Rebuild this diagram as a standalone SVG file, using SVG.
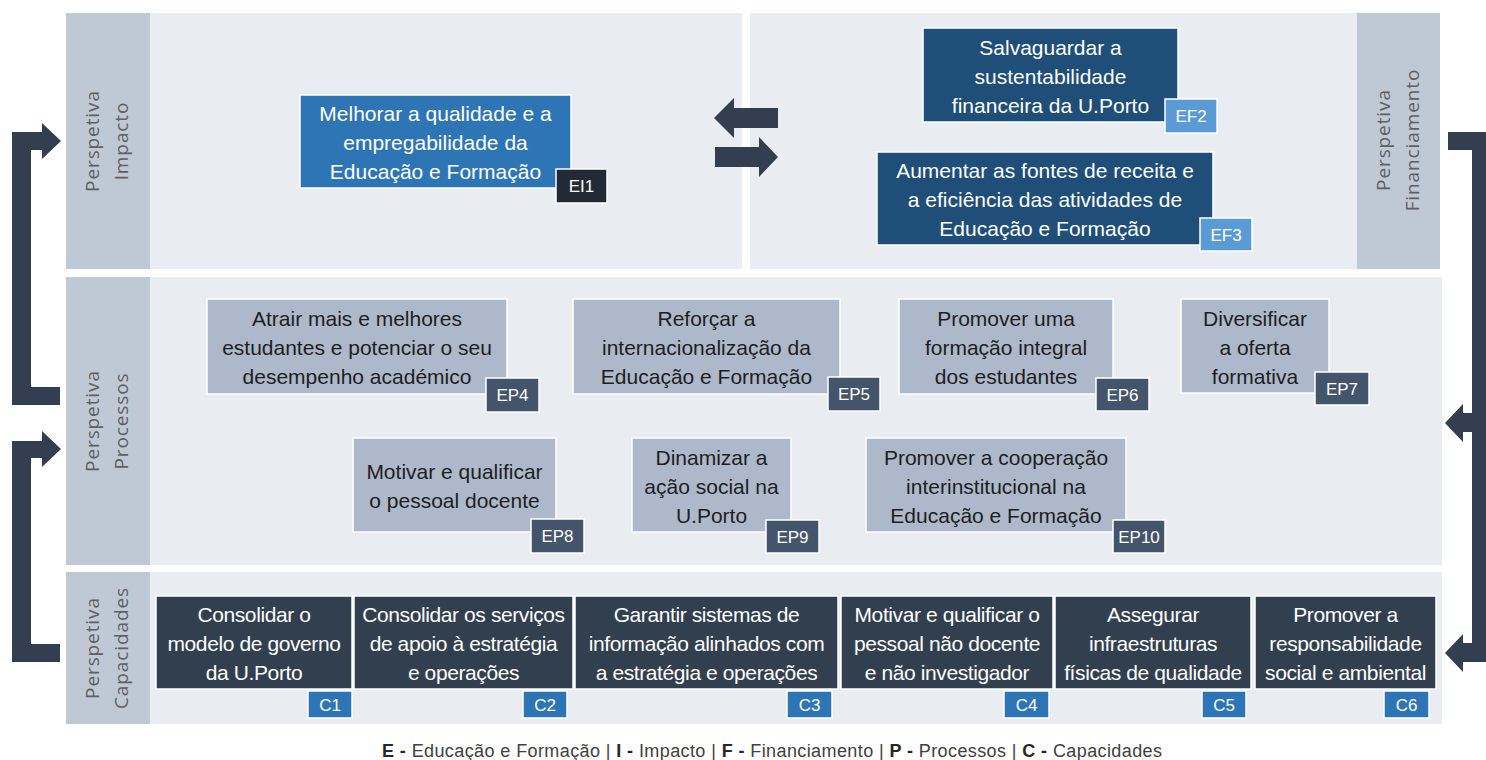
<svg xmlns="http://www.w3.org/2000/svg" width="1486" height="760" viewBox="0 0 1486 760">
<style>
.band{fill:#e9ecf1}
.lab{fill:#bfc9d6}
.labt{font-family:"Open Sans","DejaVu Sans",sans-serif;font-weight:400;font-size:19px;letter-spacing:0.9px;fill:#5f5f5f;text-anchor:middle}
.bx{stroke:#ffffff;stroke-width:1.5}
.t{font-family:"Liberation Sans",Arial,sans-serif;font-size:21px;text-anchor:middle}
.w{fill:#ffffff}
.d{fill:#1e1e1e}
.ct{letter-spacing:-0.4px}
.tg{font-family:"Liberation Sans",Arial,sans-serif;font-size:17px;fill:#ffffff;text-anchor:middle}
.arr{fill:#333f50}
.leg{font-family:"Liberation Sans",Arial,sans-serif;font-size:18px;fill:#404040}
.lb{font-weight:bold;fill:#262626}
</style>

<g id="bands">
  <rect class="band" x="66" y="13" width="676" height="256"/>
  <rect class="band" x="750" y="13" width="690" height="256"/>
  <rect class="band" x="66" y="277" width="1376" height="288"/>
  <rect class="band" x="66" y="572" width="1376" height="152"/>
  <rect class="lab" x="66" y="13" width="84" height="256"/>
  <rect class="lab" x="1357" y="13" width="83" height="256"/>
  <rect class="lab" x="66" y="277" width="84" height="288"/>
  <rect class="lab" x="66" y="572" width="84" height="152"/>
  <g transform="translate(0,141) rotate(-90)"><text class="labt" x="0" y="99">Perspetiva</text><text class="labt" x="0" y="128">Impacto</text></g>
  <g transform="translate(0,421) rotate(-90)"><text class="labt" x="0" y="99">Perspetiva</text><text class="labt" x="0" y="128">Processos</text></g>
  <g transform="translate(0,648) rotate(-90)"><text class="labt" x="0" y="99">Perspetiva</text><text class="labt" x="0" y="128">Capacidades</text></g>
  <g transform="translate(0,140) rotate(-90)"><text class="labt" x="0" y="1390">Perspetiva</text><text class="labt" x="0" y="1419">Financiamento</text></g>
</g>

<g id="connectors">
  <polygon class="arr" points="12,132 42,132 42,123 61,141 42,159 42,150 31,150 31,387 60,387 60,405 12,405"/>
  <polygon class="arr" points="12,441 42,441 42,431 61,449 42,467 42,458 31,458 31,644 60,644 60,662 12,662"/>
  <polygon class="arr" points="1448,132 1490,132 1490,662 1463,662 1463,672 1445,653 1463,634 1463,643 1472,643 1472,432 1463,432 1463,442 1445,423 1463,404 1463,413 1472,413 1472,150 1448,150"/>
  <polygon class="arr" points="778,108 734,108 734,98 714,118 734,138 734,128 778,128"/>
  <polygon class="arr" points="715,147 759,147 759,137 778,157 759,177 759,167 715,167"/>
</g>

<g id="EI1">
  <rect class="bx" x="300" y="95" width="271" height="93" fill="#2e75b6"/>
  <text class="t w" x="435.5"><tspan x="435.5" y="121">Melhorar a qualidade e a</tspan><tspan x="435.5" y="150">empregabilidade da</tspan><tspan x="435.5" y="179">Educação e Formação</tspan></text>
  <rect class="bx" x="556" y="169" width="51" height="34" fill="#222a35"/>
  <text class="tg" x="581.5" y="192">EI1</text>
</g>

<g id="EF2">
  <rect class="bx" x="923" y="28" width="255" height="94" fill="#1f4e79"/>
  <text class="t w"><tspan x="1050.5" y="54.5">Salvaguardar a</tspan><tspan x="1050.5" y="83.5">sustentabilidade</tspan><tspan x="1050.5" y="112.5">financeira da U.Porto</tspan></text>
  <rect class="bx" x="1165" y="99" width="52" height="34" fill="#5b9bd5"/>
  <text class="tg" x="1191" y="122">EF2</text>
</g>

<g id="EF3">
  <rect class="bx" x="877" y="152" width="336" height="93" fill="#1f4e79"/>
  <text class="t w"><tspan x="1045" y="178">Aumentar as fontes de receita e</tspan><tspan x="1045" y="207">a eficiência das atividades de</tspan><tspan x="1045" y="236">Educação e Formação</tspan></text>
  <rect class="bx" x="1200" y="218" width="52" height="33" fill="#5b9bd5"/>
  <text class="tg" x="1226" y="240.5">EF3</text>
</g>

<g id="EP4">
  <rect class="bx" x="207" y="299" width="300" height="95" fill="#adb9ca"/>
  <text class="t d"><tspan x="357" y="326">Atrair mais e melhores</tspan><tspan x="357" y="355">estudantes e potenciar o seu</tspan><tspan x="357" y="384">desempenho académico</tspan></text>
  <rect class="bx" x="486" y="378" width="53" height="34" fill="#44546a"/>
  <text class="tg" x="512.5" y="401">EP4</text>
</g>

<g id="EP5">
  <rect class="bx" x="573" y="299" width="267" height="95" fill="#adb9ca"/>
  <text class="t d"><tspan x="706.5" y="326">Reforçar a</tspan><tspan x="706.5" y="355">internacionalização da</tspan><tspan x="706.5" y="384">Educação e Formação</tspan></text>
  <rect class="bx" x="828" y="377" width="52" height="34" fill="#44546a"/>
  <text class="tg" x="854" y="400">EP5</text>
</g>

<g id="EP6">
  <rect class="bx" x="899" y="299" width="214" height="95" fill="#adb9ca"/>
  <text class="t d"><tspan x="1006" y="326">Promover uma</tspan><tspan x="1006" y="355">formação integral</tspan><tspan x="1006" y="384">dos estudantes</tspan></text>
  <rect class="bx" x="1096" y="378" width="53" height="33" fill="#44546a"/>
  <text class="tg" x="1122.5" y="400.5">EP6</text>
</g>

<g id="EP7">
  <rect class="bx" x="1181" y="299" width="148" height="94" fill="#adb9ca"/>
  <text class="t d"><tspan x="1255" y="326">Diversificar</tspan><tspan x="1255" y="355">a oferta</tspan><tspan x="1255" y="384">formativa</tspan></text>
  <rect class="bx" x="1315" y="372" width="54" height="33" fill="#44546a"/>
  <text class="tg" x="1342" y="394.5">EP7</text>
</g>

<g id="EP8">
  <rect class="bx" x="353" y="438" width="203" height="94" fill="#adb9ca"/>
  <text class="t d"><tspan x="454.5" y="479">Motivar e qualificar</tspan><tspan x="454.5" y="508">o pessoal docente</tspan></text>
  <rect class="bx" x="531" y="519" width="53" height="34" fill="#44546a"/>
  <text class="tg" x="557.5" y="542">EP8</text>
</g>

<g id="EP9">
  <rect class="bx" x="632" y="438" width="159" height="94" fill="#adb9ca"/>
  <text class="t d"><tspan x="711.5" y="465">Dinamizar a</tspan><tspan x="711.5" y="494">ação social na</tspan><tspan x="711.5" y="523">U.Porto</tspan></text>
  <rect class="bx" x="766" y="520" width="53" height="33" fill="#44546a"/>
  <text class="tg" x="792.5" y="542.5">EP9</text>
</g>

<g id="EP10">
  <rect class="bx" x="866" y="438" width="260" height="94" fill="#adb9ca"/>
  <text class="t d"><tspan x="996" y="465">Promover a cooperação</tspan><tspan x="996" y="494">interinstitucional na</tspan><tspan x="996" y="523">Educação e Formação</tspan></text>
  <rect class="bx" x="1113" y="520" width="52" height="33" fill="#44546a"/>
  <text class="tg" x="1139" y="542.5">EP10</text>
</g>

<g id="C1">
  <rect class="bx" x="156" y="596" width="196" height="93" fill="#323f4f"/>
  <text class="t w ct"><tspan x="254" y="622">Consolidar o</tspan><tspan x="254" y="651">modelo de governo</tspan><tspan x="254" y="680">da U.Porto</tspan></text>
  <rect class="bx" x="308" y="691" width="44" height="27" fill="#2e75b6"/>
  <text class="tg" x="330" y="710.5">C1</text>
</g>

<g id="C2">
  <rect class="bx" x="354" y="596" width="219" height="93" fill="#323f4f"/>
  <text class="t w ct"><tspan x="463.5" y="622">Consolidar os serviços</tspan><tspan x="463.5" y="651">de apoio à estratégia</tspan><tspan x="463.5" y="680">e operações</tspan></text>
  <rect class="bx" x="523" y="691" width="44" height="27" fill="#2e75b6"/>
  <text class="tg" x="545" y="710.5">C2</text>
</g>

<g id="C3">
  <rect class="bx" x="575" y="596" width="263" height="93" fill="#323f4f"/>
  <text class="t w ct"><tspan x="706.5" y="622">Garantir sistemas de</tspan><tspan x="706.5" y="651">informação alinhados com</tspan><tspan x="706.5" y="680">a estratégia e operações</tspan></text>
  <rect class="bx" x="787" y="691" width="45" height="27" fill="#2e75b6"/>
  <text class="tg" x="809.5" y="710.5">C3</text>
</g>

<g id="C4">
  <rect class="bx" x="841" y="596" width="212" height="93" fill="#323f4f"/>
  <text class="t w ct"><tspan x="947" y="622">Motivar e qualificar o</tspan><tspan x="947" y="651">pessoal não docente</tspan><tspan x="947" y="680">e não investigador</tspan></text>
  <rect class="bx" x="1004" y="691" width="45" height="27" fill="#2e75b6"/>
  <text class="tg" x="1026.5" y="710.5">C4</text>
</g>

<g id="C5">
  <rect class="bx" x="1055" y="596" width="196" height="93" fill="#323f4f"/>
  <text class="t w ct"><tspan x="1153" y="622">Assegurar</tspan><tspan x="1153" y="651">infraestruturas</tspan><tspan x="1153" y="680">físicas de qualidade</tspan></text>
  <rect class="bx" x="1202" y="691" width="44" height="27" fill="#2e75b6"/>
  <text class="tg" x="1224" y="710.5">C5</text>
</g>

<g id="C6">
  <rect class="bx" x="1255" y="596" width="181" height="93" fill="#323f4f"/>
  <text class="t w ct"><tspan x="1345.5" y="622">Promover a</tspan><tspan x="1345.5" y="651">responsabilidade</tspan><tspan x="1345.5" y="680">social e ambiental</tspan></text>
  <rect class="bx" x="1384" y="691" width="45" height="27" fill="#2e75b6"/>
  <text class="tg" x="1406.5" y="710.5">C6</text>
</g>

<g id="legend">
  <text class="leg" x="382" y="757" textLength="780" lengthAdjust="spacing"><tspan class="lb">E -</tspan> Educação e Formação | <tspan class="lb">I -</tspan> Impacto | <tspan class="lb">F -</tspan> Financiamento | <tspan class="lb">P -</tspan> Processos | <tspan class="lb">C -</tspan> Capacidades</text>
</g>
</svg>
